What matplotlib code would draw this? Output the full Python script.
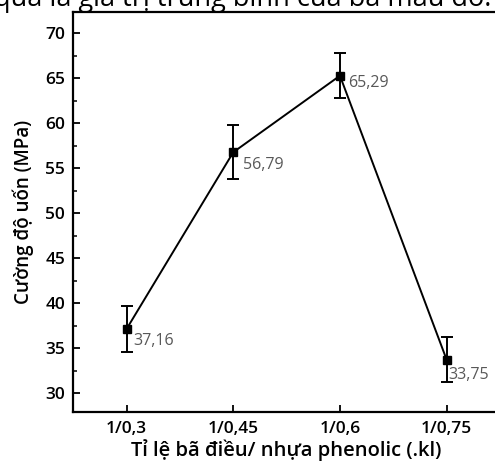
import matplotlib
matplotlib.use("Agg")
import matplotlib.pyplot as plt
from matplotlib.ticker import MultipleLocator

plt.rcParams['font.family'] = ['Open Sans', 'DejaVu Sans']

ratios = ['1/0,3', '1/0,45', '1/0,6', '1/0,75']
strength = [37.16, 56.79, 65.29, 33.75]
err = [2.6, 3.0, 2.5, 2.5]
value_labels = ['37,16', '56,79', '65,29', '33,75']
label_offsets = [(5, -9), (7, -9), (6, -5.5), (1, -11)]

fig = plt.figure(figsize=(4.95, 4.70), dpi=100)
ax = fig.add_axes([0.148, 0.1228, 0.862, 0.8517])

x = list(range(len(ratios)))
ax.errorbar(x, strength, yerr=err, color='black', lw=1.4, marker='s', ms=6,
            capsize=4, capthick=1.4, elinewidth=1.4)

for i in range(len(x)):
    ax.annotate(value_labels[i], (x[i], strength[i]), xytext=label_offsets[i],
                textcoords='offset points', ha='left', va='center',
                fontsize=11.5, color='#585858')

ax.set_xlim(-0.5, 3.5)
ax.set_ylim(27.9, 72.37)
ax.set_xticks(x)
ax.set_xticklabels(ratios)
ax.yaxis.set_major_locator(MultipleLocator(5))
ax.yaxis.set_minor_locator(MultipleLocator(2.5))
ax.tick_params(which='major', direction='in', length=5, width=1.3, labelsize=12.5, pad=6)
ax.tick_params(which='minor', direction='in', length=3, width=1.1)
ax.tick_params(axis='x', which='minor', bottom=False)
for lab in ax.get_xticklabels() + ax.get_yticklabels():
    lab.set_fontweight('semibold')
for s in ax.spines.values():
    s.set_linewidth(1.6)

ax.set_xlabel('Tỉ lệ bã điều/ nhựa phenolic (.kl)', fontsize=14.5, fontweight='semibold', labelpad=2)
ax.set_ylabel('Cường độ uốn (MPa)', fontsize=13.5, fontweight='semibold', labelpad=8)

fig.text(-0.012, 0.988, 'quả là giá trị trung bình của ba mẫu đo.', fontsize=19.5, va='baseline', ha='left')

fig.savefig('out.png', dpi=100)
